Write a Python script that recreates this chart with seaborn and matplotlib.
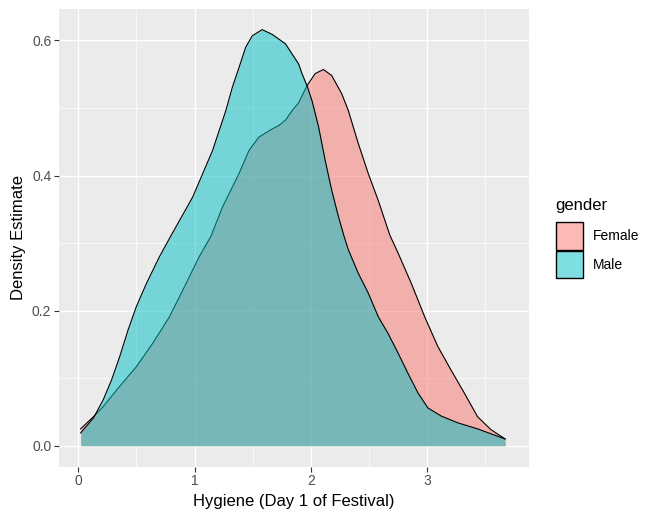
import pandas as pd
import matplotlib.pyplot as plt
from matplotlib.patches import Patch
from matplotlib.ticker import MultipleLocator
from matplotlib.colors import to_rgba
import seaborn as sns

# density estimates, hygiene score on day 1
male_x = [0.02, 0.13, 0.214, 0.285, 0.356, 0.427, 0.499, 0.585, 0.698, 0.80,
          0.983, 1.154, 1.268, 1.325, 1.382, 1.439, 1.496, 1.581, 1.667, 1.724,
          1.781, 1.838, 1.895, 1.923, 1.966, 2.009, 2.066, 2.123, 2.179, 2.237,
          2.285, 2.322, 2.408, 2.493, 2.579, 2.664, 2.750, 2.835, 2.921, 3.006,
          3.120, 3.262, 3.433, 3.67]
male_density = [0.019, 0.041, 0.068, 0.097, 0.132, 0.171, 0.206, 0.240, 0.280, 0.312,
                0.368, 0.437, 0.496, 0.531, 0.560, 0.590, 0.607, 0.616, 0.609, 0.602,
                0.595, 0.580, 0.565, 0.551, 0.533, 0.511, 0.472, 0.422, 0.378, 0.339,
                0.310, 0.290, 0.255, 0.226, 0.191, 0.166, 0.137, 0.107, 0.078, 0.056,
                0.044, 0.034, 0.025, 0.010]

female_x = [0.02, 0.13, 0.214, 0.356, 0.499, 0.641, 0.784, 0.926, 1.040, 1.140,
            1.239, 1.382, 1.467, 1.553, 1.667, 1.724, 1.781, 1.838, 1.895, 1.966,
            2.037, 2.108, 2.179, 2.265, 2.322, 2.408, 2.493, 2.579, 2.678, 2.75,
            2.864, 2.978, 3.091, 3.205, 3.319, 3.433, 3.547, 3.67]
female_density = [0.025, 0.043, 0.058, 0.088, 0.117, 0.152, 0.191, 0.240, 0.280, 0.310,
                  0.353, 0.403, 0.437, 0.457, 0.469, 0.474, 0.482, 0.496, 0.508, 0.533,
                  0.551, 0.557, 0.548, 0.521, 0.496, 0.447, 0.403, 0.363, 0.312, 0.285,
                  0.240, 0.191, 0.147, 0.112, 0.078, 0.043, 0.024, 0.010]

genders = ["Female", "Male"]
colors = {"Female": "#F8766D", "Male": "#00BFC4"}

df = pd.concat([
    pd.DataFrame({"hygiene": female_x, "density": female_density, "gender": "Female"}),
    pd.DataFrame({"hygiene": male_x, "density": male_density, "gender": "Male"}),
])

plt.rcParams['font.family'] = ['Liberation Sans', 'DejaVu Sans']

fig = plt.figure(figsize=(6.62, 5.22), dpi=100)
ax = fig.add_axes([59 / 662, 1 - 466.7 / 522, 470 / 662, 458 / 522])
ax.set_facecolor("#EBEBEB")

z = 1
for g in genders:
    sub = df[df["gender"] == g]
    ax.fill_between(sub["hygiene"], 0, sub["density"], color=colors[g], alpha=0.5,
                    linewidth=0, zorder=z)
    sns.lineplot(data=sub, x="hygiene", y="density", color="black", linewidth=0.8,
                 sort=False, estimator=None, ax=ax, zorder=z + 0.1)
    z += 1

ax.set_xlim(-0.166, 3.875)
ax.set_ylim(-0.031, 0.647)
ax.xaxis.set_major_locator(MultipleLocator(1))
ax.xaxis.set_minor_locator(MultipleLocator(0.5))
ax.yaxis.set_major_locator(MultipleLocator(0.2))
ax.yaxis.set_minor_locator(MultipleLocator(0.1))
ax.yaxis.set_major_formatter(plt.FuncFormatter(lambda v, p: f"{v:.1f}"))
ax.set_axisbelow(True)
ax.grid(which="major", color="white", linewidth=1.0, zorder=0)
ax.grid(which="minor", color="white", linewidth=0.5, zorder=0)
for s in ax.spines.values():
    s.set_visible(False)
ax.tick_params(which="major", length=3.5, color="#333333", labelsize=10,
               labelcolor="#4D4D4D", pad=2)
ax.tick_params(which="minor", length=0)

ax.set_xlabel("Hygiene (Day 1 of Festival)", fontsize=12, color="black", labelpad=4)
ax.set_ylabel("Density Estimate", fontsize=12, color="black", labelpad=4)

handles = [Patch(facecolor=to_rgba(colors[g], 0.5), edgecolor="black", linewidth=1.0)
           for g in genders]
leg = fig.legend(handles, genders, title="gender", loc="upper left",
                 bbox_to_anchor=(550 / 662, 1 - 192 / 522), frameon=False,
                 fontsize=10, title_fontsize=12, handlelength=2.0, handleheight=2.68,
                 handletextpad=0.7, labelspacing=0.05, borderaxespad=0)
leg._legend_box.align = "left"
leg._legend_box.sep = 7

fig.savefig("out.png", dpi=100)
